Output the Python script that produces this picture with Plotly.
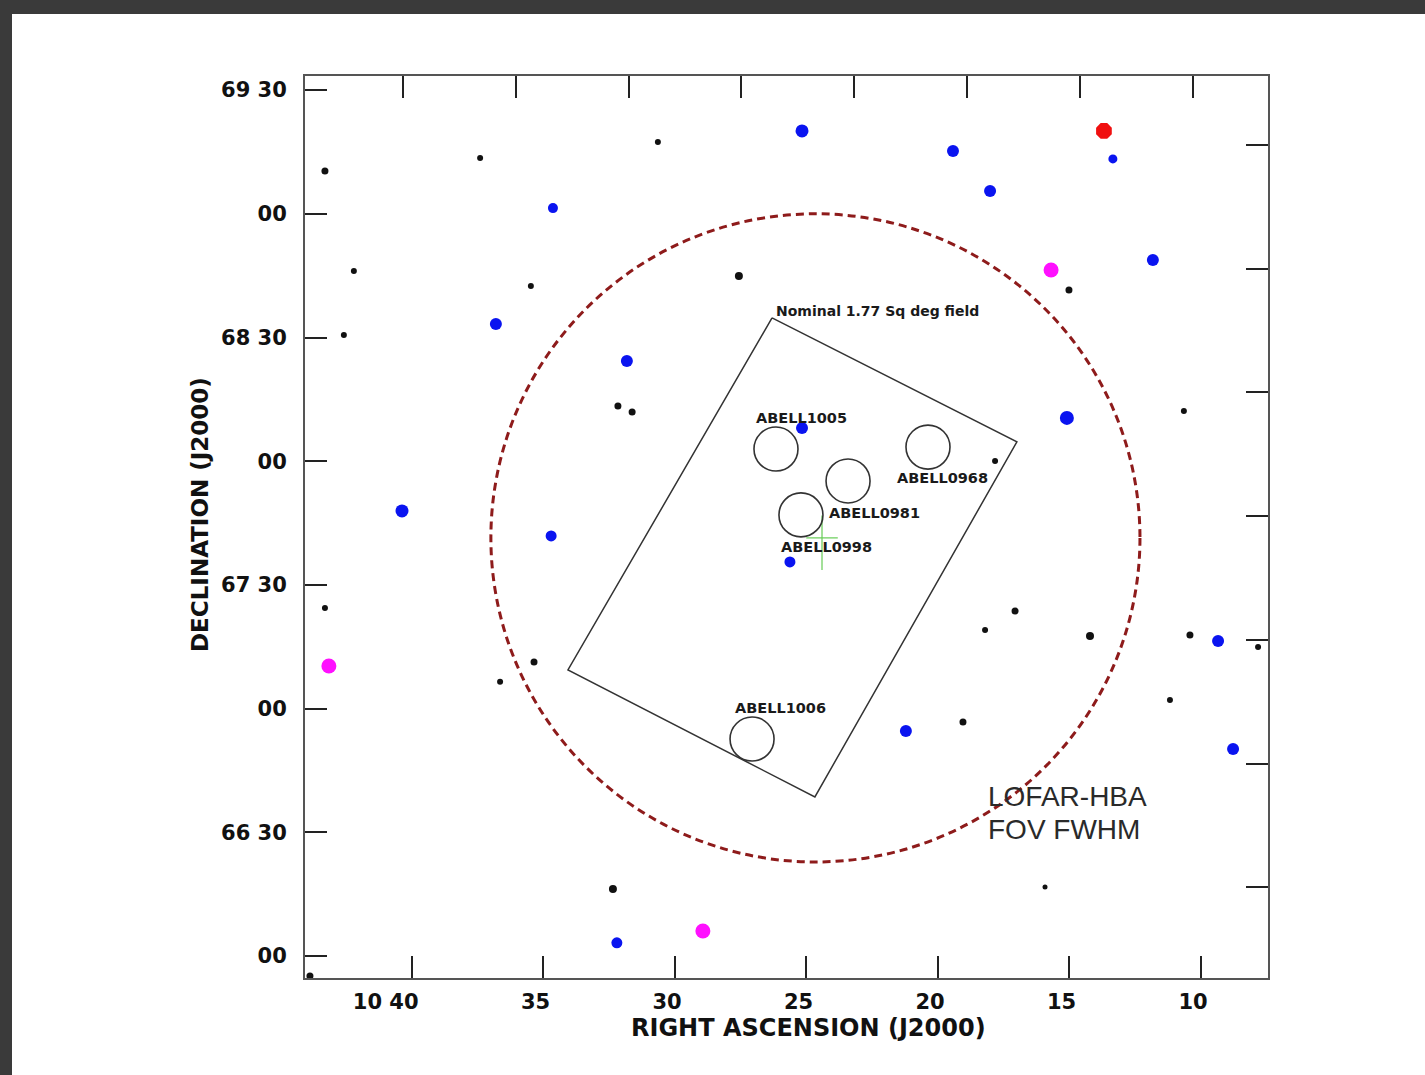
import plotly.graph_objects as go

# ---------------- data (RA in minutes past 10h, Dec in degrees) ----------------
black_ra = [43.31, 37.41, 30.65, 42.21, 35.48, 42.59, 27.57, 15.02, 32.17, 31.63,
            10.65, 17.83, 43.31, 17.07, 18.21, 14.22, 10.42, 7.83, 35.36, 36.65,
            11.18, 19.05, 32.36, 15.93, 43.88]
black_dec = [69.173, 69.226, 69.290, 68.769, 68.708, 68.510, 68.749, 68.692, 68.223, 68.199,
             68.203, 68.001, 67.407, 67.394, 67.318, 67.293, 67.297, 67.249, 67.188, 67.108,
             67.035, 66.946, 66.271, 66.279, 65.919]
black_size = [7, 6, 6, 6, 6, 6, 8, 7, 7, 7,
              6, 6, 6, 7, 6, 8, 7, 6, 7, 6,
              6, 7, 8, 5, 7]

blue_ra = [25.17, 19.43, 13.35, 34.64, 18.02, 11.83, 36.81, 31.83, 15.10, 25.17,
           40.38, 34.71, 25.63, 9.35, 21.22, 8.78, 32.21]
blue_dec = [69.335, 69.254, 69.222, 69.023, 69.092, 68.813, 68.555, 68.405, 68.175, 68.134,
            67.799, 67.698, 67.593, 67.273, 66.909, 66.837, 66.053]
blue_size = [13, 12, 9, 10, 12, 12, 12, 12, 14, 12,
             13, 11, 11, 12, 12, 12, 11]

magenta_ra = [15.70, 43.16, 28.94]
magenta_dec = [68.773, 67.172, 66.101]

red_ra = [13.69]
red_dec = [69.335]

abell_names = ["ABELL1005", "ABELL0968", "ABELL0981", "ABELL0998", "ABELL1006"]
abell_ra = [26.16, 20.38, 23.42, 25.21, 27.07]
abell_dec = [68.049, 68.057, 67.920, 67.783, 66.877]

# nominal field polygon (corners)
field_ra = [26.31, 17.00, 24.68, 34.07]
field_dec = [68.579, 68.078, 66.643, 67.156]

# LOFAR-HBA FOV FWHM circle
fov_ra, fov_dec = 24.66, 67.69
fov_r_ra, fov_r_dec = 12.34, 1.31

# pointing centre cross
cross_ra, cross_dec = 24.41, 67.67

ra_ticks = [40, 35, 30, 25, 20, 15, 10]
ra_labels = ["10 40" + "\u00a0" * 5, "35", "30", "25", "20", "15", "10"]
dec_ticks = [66, 66.5, 67, 67.5, 68, 68.5, 69, 69.5]
dec_labels = ["00", "66 30", "00", "67 30", "00", "68 30", "00", "69 30"]

# ---------------- figure ----------------
fig = go.Figure()

# nominal field outline
fig.add_trace(go.Scatter(x=field_ra + field_ra[:1], y=field_dec + field_dec[:1],
                         mode="lines", line=dict(color="#333333", width=1.5),
                         hoverinfo="skip"))

# pointing centre cross (green)
fig.add_trace(go.Scatter(x=[cross_ra, cross_ra, None, cross_ra + 0.6, cross_ra - 0.6],
                         y=[cross_dec + 0.11, cross_dec - 0.11, None, cross_dec + 0.02, cross_dec + 0.02],
                         mode="lines", line=dict(color="#66cc55", width=1.2), hoverinfo="skip"))

# Abell cluster circles
fig.add_trace(go.Scatter(x=abell_ra, y=abell_dec, mode="markers",
                         marker=dict(symbol="circle-open", size=44, color="#333333",
                                     opacity=1, line=dict(color="#333333", width=1.6)),
                         hoverinfo="skip"))

fig.add_trace(go.Scatter(x=black_ra, y=black_dec, mode="markers",
                         marker=dict(color="#111111", size=black_size, opacity=1,
                                     line=dict(width=0))))
fig.add_trace(go.Scatter(x=blue_ra, y=blue_dec, mode="markers",
                         marker=dict(color="#0a14f0", size=blue_size, opacity=1,
                                     line=dict(width=0))))
fig.add_trace(go.Scatter(x=magenta_ra, y=magenta_dec, mode="markers",
                         marker=dict(color="#ff10ff", size=15, opacity=1, line=dict(width=0))))
fig.add_trace(go.Scatter(x=red_ra, y=red_dec, mode="markers",
                         marker=dict(color="#f01010", symbol="octagon", size=17, opacity=1,
                                     line=dict(width=0))))

# dummy trace for top/right tick axes
fig.add_trace(go.Scatter(x=[None], y=[None], xaxis="x2", yaxis="y2", showlegend=False))

# FOV circle
fig.add_shape(type="circle", xref="x", yref="y",
              x0=fov_ra - fov_r_ra, x1=fov_ra + fov_r_ra,
              y0=fov_dec - fov_r_dec, y1=fov_dec + fov_r_dec,
              line=dict(color="#8e1b1b", width=3, dash="8px,5px"), layer="above")

# white panel over dark frame
fig.add_shape(type="rect", xref="paper", yref="paper",
              x0=(12 - 305) / 963, x1=1.3, y0=-0.2, y1=(978 - 14) / 902,
              fillcolor="white", line=dict(width=0), layer="below")

label_font = dict(family="DejaVu Sans", size=14.5, color="#1a1a1a", weight="bold")
dx = [26, 15, 26, 26, 28]
dy = [31, -31, -32, -32, 31]
for name, ra, dec, sx, sy in zip(abell_names, abell_ra, abell_dec, dx, dy):
    fig.add_annotation(x=ra, y=dec, text=name, showarrow=False, font=label_font,
                       xshift=sx, yshift=sy)

fig.add_annotation(x=field_ra[0], y=field_dec[0], text="Nominal 1.77 Sq deg field",
                   showarrow=False, xanchor="left", yanchor="middle", xshift=2, yshift=7,
                   font=dict(family="DejaVu Sans", size=14, color="#1a1a1a", weight="bold"))

big = dict(family="Liberation Sans", size=28, color="#2a2a2a")
fig.add_annotation(xref="paper", yref="paper", x=(986 - 305) / 963, y=(978 - 796) / 902,
                   text="LOFAR-HBA", showarrow=False, xanchor="left", yanchor="middle", font=big)
fig.add_annotation(xref="paper", yref="paper", x=(986 - 305) / 963, y=(978 - 829) / 902,
                   text="FOV FWHM", showarrow=False, xanchor="left", yanchor="middle", font=big)

title_font = dict(family="DejaVu Sans", size=23, color="#111111", weight="bold")
fig.add_annotation(xref="paper", yref="paper", x=(808 - 305) / 963, y=(978 - 1028) / 902,
                   text="RIGHT ASCENSION (J2000)", showarrow=False, xanchor="center",
                   yanchor="middle", font=dict(title_font, size=24))
fig.add_annotation(xref="paper", yref="paper", x=(200 - 305) / 963, y=(978 - 515) / 902,
                   text="DECLINATION (J2000)", showarrow=False, textangle=-90,
                   xanchor="center", yanchor="middle", font=title_font)

tick_font = dict(family="DejaVu Sans", size=21, color="#111111", weight="bold")
axis_common = dict(showgrid=False, zeroline=False, showline=True, linecolor="#555555",
                   linewidth=2, ticks="inside", ticklen=22, tickwidth=2, tickcolor="#222222")

fig.update_layout(
    width=1425, height=1075, autosize=False,
    margin=dict(l=305, r=157, t=76, b=97),
    paper_bgcolor="#3a3a3a", plot_bgcolor="white",
    showlegend=False, hovermode=False,
    xaxis=dict(range=[44.068, 7.452], tickvals=ra_ticks, ticktext=ra_labels,
               tickfont=tick_font, ticklabelstandoff=4, ticklabelshift=8, **axis_common),
    yaxis=dict(range=[65.911, 69.557], tickvals=dec_ticks, ticktext=dec_labels,
               tickfont=tick_font, ticklabelstandoff=12, **axis_common),
    xaxis2=dict(overlaying="x", side="top", anchor="y", range=[-0.869, 7.668],
                tickvals=list(range(8)), showticklabels=False, **axis_common),
    yaxis2=dict(overlaying="y", side="right", anchor="x", range=[66.133, 69.779],
                tickvals=dec_ticks, showticklabels=False, **axis_common),
)

fig.write_html("out.html", config={"displayModeBar": False},
               post_script="document.body.style.margin='0px';")
